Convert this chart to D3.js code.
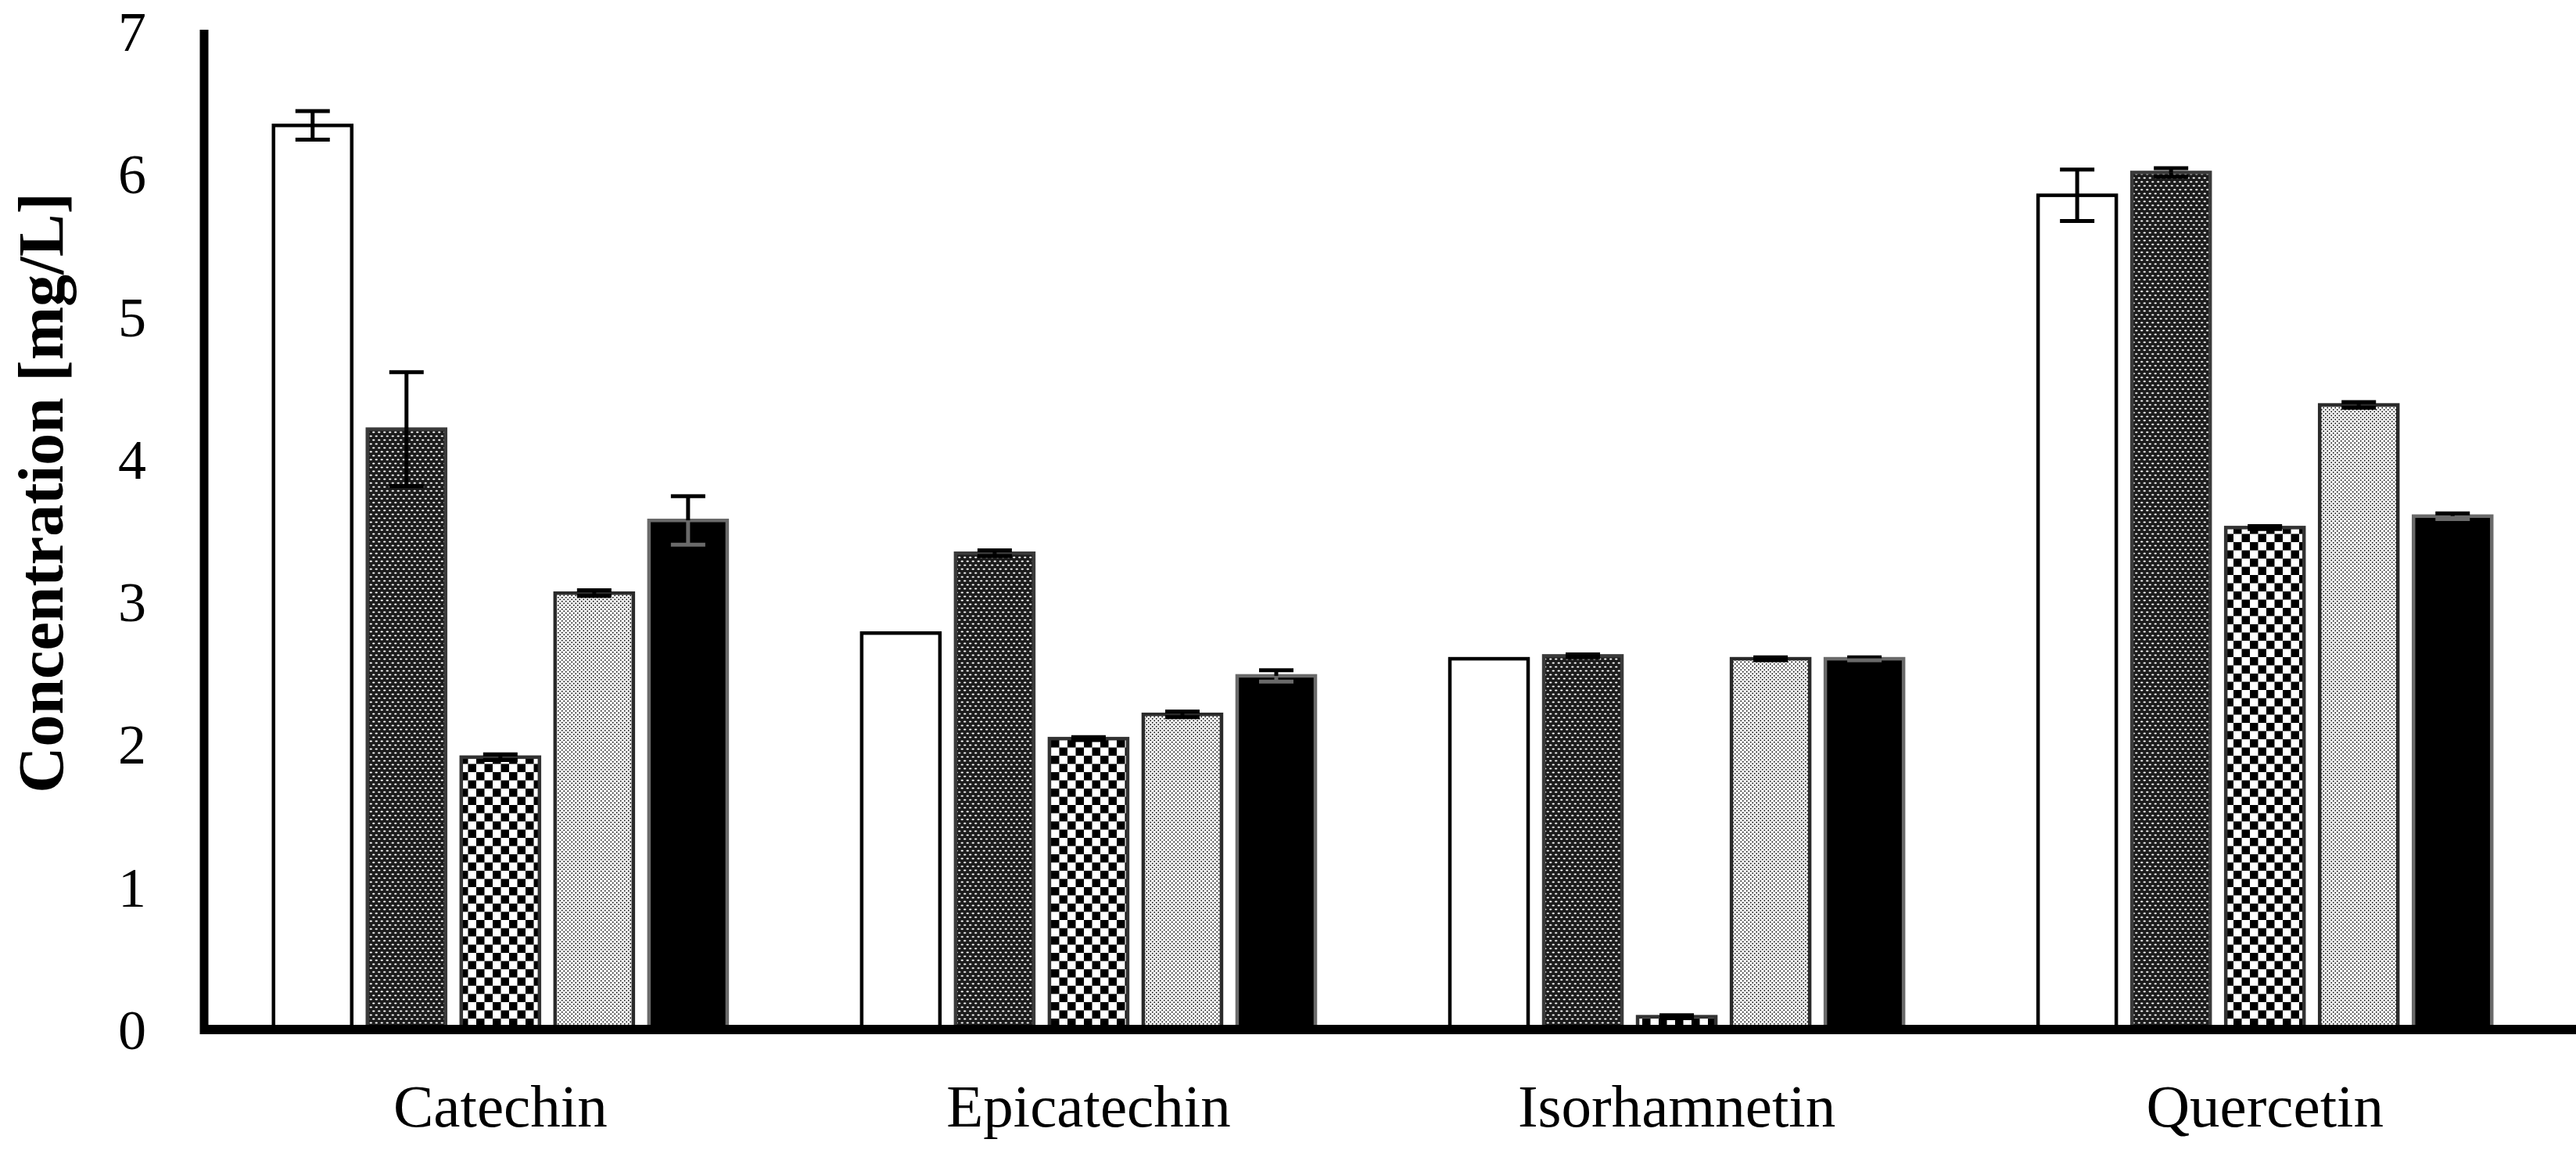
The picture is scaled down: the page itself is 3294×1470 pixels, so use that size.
<!DOCTYPE html>
<html>
<head>
<meta charset="utf-8">
<script src="https://cdn.jsdelivr.net/npm/d3@7"></script>
<style>
  html, body { margin: 0; padding: 0; background: #ffffff; }
  svg { display: block; }
</style>
</head>
<body>
<svg id="chart" width="3294" height="1470"></svg>
<script>
// ---------------- DATA ----------------
const categories = ["Catechin", "Epicatechin", "Isorhamnetin", "Quercetin"];
const seriesNames = ["S1", "S2", "S3", "S4", "S5"];

const valuesS1 = [6.34, 2.78, 2.60, 5.85];
const valuesS2 = [4.21, 3.34, 2.62, 6.01];
const valuesS3 = [1.91, 2.04, 0.09, 3.52];
const valuesS4 = [3.06, 2.21, 2.60, 4.38];
const valuesS5 = [3.57, 2.48, 2.60, 3.60];

const errorsS1 = [0.10, 0.00, 0.00, 0.18];
const errorsS2 = [0.40, 0.02, 0.01, 0.03];
const errorsS3 = [0.02, 0.01, 0.01, 0.01];
const errorsS4 = [0.02, 0.02, 0.01, 0.02];
const errorsS5 = [0.17, 0.04, 0.01, 0.02];

const yTicks = [0, 1, 2, 3, 4, 5, 6, 7];
const yTitle = "Concentration [mg/L]";

// ---------------- BUILD ----------------
const seriesValues = [valuesS1, valuesS2, valuesS3, valuesS4, valuesS5];
const seriesErrors = [errorsS1, errorsS2, errorsS3, errorsS4, errorsS5];

const rows = [];
categories.forEach((c, ci) => {
  seriesNames.forEach((s, si) => {
    rows.push({ cat: c, series: s, si: si, value: seriesValues[si][ci], err: seriesErrors[si][ci] });
  });
});

const svg = d3.select("#chart");
const W = 3294, H = 1470;
svg.append("rect").attr("width", W).attr("height", H).attr("fill", "#ffffff");

// patterns
const defs = svg.append("defs");
const pDark = defs.append("pattern").attr("id", "pDark").attr("patternUnits", "userSpaceOnUse")
  .attr("width", 7).attr("height", 10);
pDark.append("rect").attr("width", 7).attr("height", 10).attr("fill", "#1c1c1c");
pDark.append("ellipse").attr("cx", 1.75).attr("cy", 2.5).attr("rx", 1.7).attr("ry", 0.95).attr("fill", "#ffffff");
pDark.append("ellipse").attr("cx", 5.25).attr("cy", 7.5).attr("rx", 1.7).attr("ry", 0.95).attr("fill", "#ffffff");

const pCheck = defs.append("pattern").attr("id", "pCheck").attr("patternUnits", "userSpaceOnUse")
  .attr("width", 21).attr("height", 21);
pCheck.append("rect").attr("width", 21).attr("height", 21).attr("fill", "#ffffff");
pCheck.append("rect").attr("x", 0).attr("y", 0).attr("width", 10.5).attr("height", 10.5).attr("fill", "#000000");
pCheck.append("rect").attr("x", 10.5).attr("y", 10.5).attr("width", 10.5).attr("height", 10.5).attr("fill", "#000000");

const pLight = defs.append("pattern").attr("id", "pLight").attr("patternUnits", "userSpaceOnUse")
  .attr("width", 5).attr("height", 5);
pLight.append("rect").attr("width", 5).attr("height", 5).attr("fill", "#ffffff");
pLight.append("circle").attr("cx", 1.25).attr("cy", 1.25).attr("r", 0.95).attr("fill", "#1a1a1a");
pLight.append("circle").attr("cx", 3.75).attr("cy", 3.75).attr("r", 0.95).attr("fill", "#1a1a1a");

const fills = ["#ffffff", "url(#pDark)", "url(#pCheck)", "url(#pLight)", "#000000"];
const strokes = ["#000000", "#3a3a3a", "#333333", "#2a2a2a", "#6a6a6a"];

// scales
const y = d3.scaleLinear().domain([0, 7]).range([1316, 40]);
const x0 = d3.scaleBand().domain(categories).range([261, 3275]).paddingInner(0.2287).paddingOuter(0.118);
const x1 = d3.scaleBand().domain(seriesNames).range([0, x0.bandwidth()]).paddingInner(0.1667).paddingOuter(0);

// bars
const bars = svg.append("g").attr("class", "bars");
bars.selectAll("rect").data(rows).join("rect")
  .attr("x", d => x0(d.cat) + x1(d.series))
  .attr("y", d => y(d.value))
  .attr("width", x1.bandwidth())
  .attr("height", d => y(0) - y(d.value))
  .attr("fill", d => fills[d.si])
  .attr("stroke", d => strokes[d.si])
  .attr("stroke-width", 4.5);

// error bars
const capW = 44;
const eg = svg.append("g").attr("class", "errors");
rows.filter(d => d.err > 0).forEach(d => {
  const cx = x0(d.cat) + x1(d.series) + x1.bandwidth() / 2;
  const top = y(d.value + d.err), mid = y(d.value), bot = y(d.value - d.err);
  const lowColor = d.si === 4 ? "#6a6a6a" : "#000000";
  eg.append("line").attr("x1", cx).attr("x2", cx).attr("y1", top).attr("y2", mid)
    .attr("stroke", "#000").attr("stroke-width", 5);
  eg.append("line").attr("x1", cx).attr("x2", cx).attr("y1", mid).attr("y2", bot)
    .attr("stroke", lowColor).attr("stroke-width", 5);
  eg.append("line").attr("x1", cx - capW / 2).attr("x2", cx + capW / 2).attr("y1", top).attr("y2", top)
    .attr("stroke", "#000").attr("stroke-width", 5);
  eg.append("line").attr("x1", cx - capW / 2).attr("x2", cx + capW / 2).attr("y1", bot).attr("y2", bot)
    .attr("stroke", lowColor).attr("stroke-width", 5);
});

// axes
const yAxis = d3.axisLeft(y).tickValues(yTicks).tickSize(0).tickPadding(74).tickFormat(d3.format("d"));
const gy = svg.append("g").attr("transform", "translate(261,0)").call(yAxis);
gy.select(".domain").remove();
gy.selectAll("text")
  .attr("font-family", "'Liberation Serif', 'Times New Roman', serif")
  .attr("font-size", 72).attr("fill", "#000").attr("dy", "0.34em");

const xAxis = d3.axisBottom(x0).tickSize(0).tickPadding(0);
const gx = svg.append("g").attr("transform", "translate(0,1316)").call(xAxis);
gx.select(".domain").remove();
gx.selectAll("text")
  .attr("font-family", "'Liberation Serif', 'Times New Roman', serif")
  .attr("font-size", 77).attr("fill", "#000").attr("y", 124).attr("dy", 0);

// axis lines
svg.append("line").attr("x1", 261).attr("x2", 261).attr("y1", 38).attr("y2", 1322)
  .attr("stroke", "#000").attr("stroke-width", 11);
svg.append("line").attr("x1", 256).attr("x2", W).attr("y1", 1316).attr("y2", 1316)
  .attr("stroke", "#000").attr("stroke-width", 12);

// y title
svg.append("text")
  .attr("transform", "translate(80,630) rotate(-90)")
  .attr("text-anchor", "middle")
  .attr("font-family", "'Liberation Serif', 'Times New Roman', serif")
  .attr("font-weight", "bold")
  .attr("font-size", 82)
  .attr("fill", "#000")
  .text(yTitle);
</script>
</body>
</html>
